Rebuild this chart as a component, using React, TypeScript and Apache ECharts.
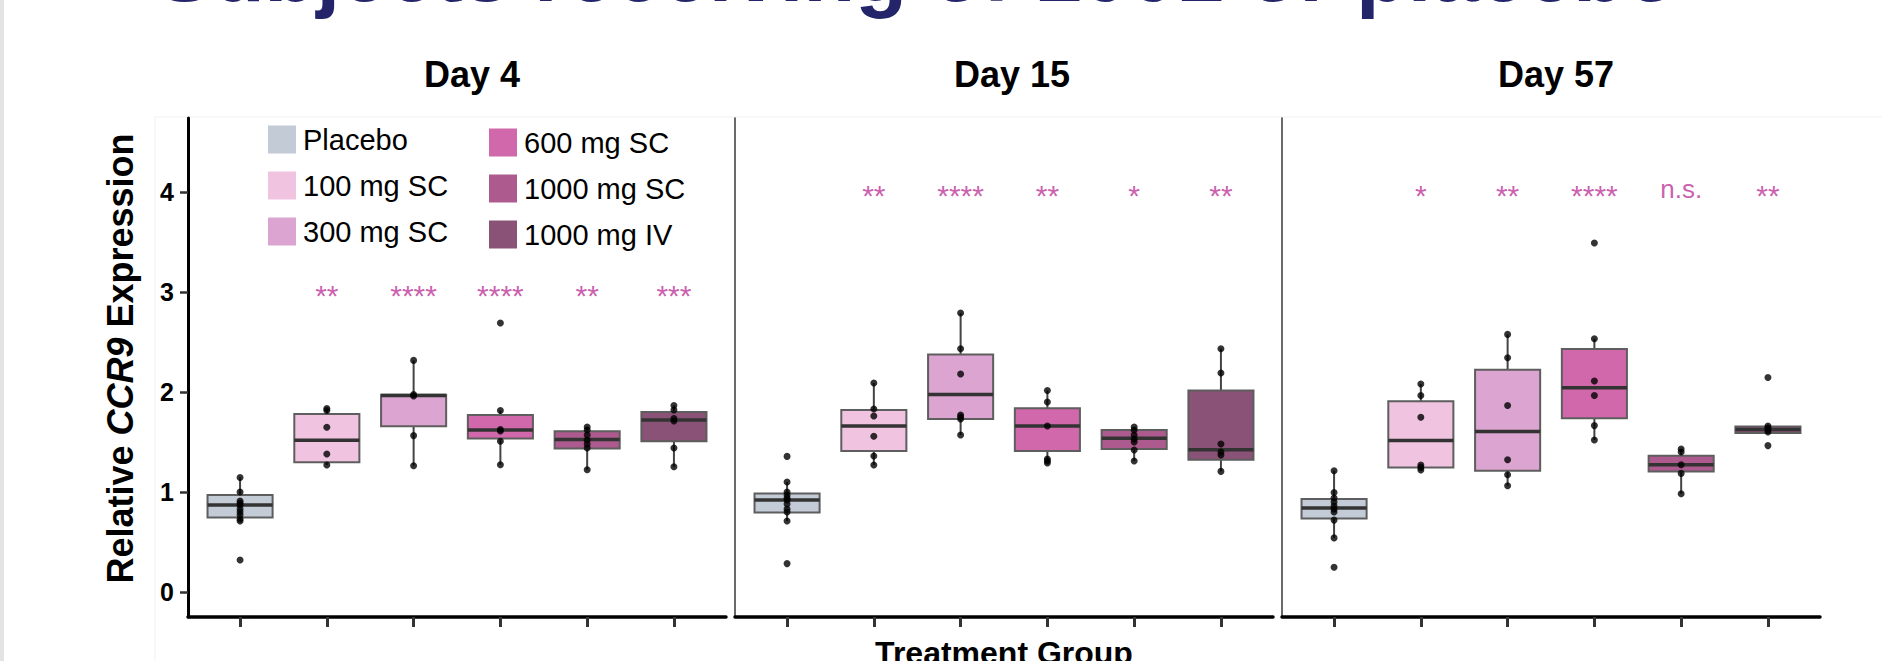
import React, { useEffect, useRef } from "react";
import * as echarts from "echarts";

const FONT = '"Liberation Sans", Arial, Helvetica, sans-serif';

const pageTitle = "Subjects receiving of 1001 or placebo";
const days = ["Day 4", "Day 15", "Day 57"];
const groups = ["Placebo", "100 mg SC", "300 mg SC", "600 mg SC", "1000 mg SC", "1000 mg IV"];
const groupColors = ["#c3cbd7", "#f0c3e1", "#dca4d1", "#d068ab", "#ad5b8e", "#8a5276"];
const yTicks = [0, 1, 2, 3, 4];
const xTicks = [0, 1, 2, 3, 4, 5];

// box stats per group: [lower whisker, Q1, median, Q3, upper whisker]
const day4Boxes = [
  [0.7, 0.745, 0.87, 0.97, 1.145],
  [1.27, 1.297, 1.517, 1.78, 1.83],
  [1.263, 1.657, 1.965, 1.972, 2.316],
  [1.273, 1.534, 1.62, 1.77, 1.815],
  [1.223, 1.434, 1.524, 1.607, 1.65],
  [1.253, 1.507, 1.721, 1.8, 1.865],
];
const day15Boxes = [
  [0.71, 0.795, 0.92, 0.985, 1.1],
  [1.27, 1.41, 1.66, 1.82, 2.09],
  [1.57, 1.73, 1.975, 2.376, 2.79],
  [1.29, 1.41, 1.66, 1.838, 2.015],
  [1.31, 1.43, 1.537, 1.62, 1.65],
  [1.206, 1.323, 1.423, 2.015, 2.433],
];
const day57Boxes = [
  [0.541, 0.735, 0.84, 0.929, 1.213],
  [1.22, 1.246, 1.514, 1.908, 2.08],
  [1.063, 1.213, 1.604, 2.222, 2.576],
  [1.52, 1.737, 2.042, 2.43, 2.533],
  [0.982, 1.206, 1.273, 1.363, 1.43],
  [1.59, 1.59, 1.624, 1.654, 1.66],
];

// individual subject values per group
const day4Points = [
  [1.145, 1.0, 0.91, 0.89, 0.87, 0.83, 0.8, 0.77, 0.73, 0.71, 0.32],
  [1.835, 1.815, 1.647, 1.38, 1.27],
  [2.316, 1.975, 1.96, 1.564, 1.263],
  [2.69, 1.815, 1.625, 1.61, 1.507, 1.273],
  [1.65, 1.62, 1.57, 1.52, 1.48, 1.44, 1.223],
  [1.865, 1.82, 1.735, 1.71, 1.44, 1.253],
];
const day15Points = [
  [1.356, 1.1, 1.0, 0.97, 0.94, 0.92, 0.88, 0.83, 0.8, 0.71, 0.284],
  [2.09, 1.83, 1.76, 1.557, 1.36, 1.27],
  [2.79, 2.433, 2.18, 1.77, 1.75, 1.73, 1.57],
  [2.015, 1.9, 1.66, 1.33, 1.31, 1.29],
  [1.65, 1.62, 1.57, 1.53, 1.5, 1.42, 1.31],
  [2.433, 2.19, 1.48, 1.4, 1.37, 1.206],
];
const day57Points = [
  [1.213, 0.995, 0.94, 0.9, 0.86, 0.83, 0.8, 0.719, 0.541, 0.248],
  [2.08, 1.965, 1.748, 1.27, 1.246, 1.22],
  [2.576, 2.343, 1.865, 1.323, 1.173, 1.063],
  [3.49, 2.533, 2.11, 1.965, 1.664, 1.52],
  [1.43, 1.4, 1.273, 1.186, 0.982],
  [2.145, 1.66, 1.64, 1.62, 1.6, 1.464],
];

const day4Stars = ["", "**", "****", "****", "**", "***"];
const day15Stars = ["", "**", "****", "**", "*", "**"];
const day57Stars = ["", "*", "**", "****", "n.s.", "**"];
const starLevels = [3, 4, 4];

const allBoxes = [day4Boxes, day15Boxes, day57Boxes];
const allPoints = [day4Points, day15Points, day57Points];
const allStars = [day4Stars, day15Stars, day57Stars];

const dayTitleX = [472, 1012, 1556];
const STAR_COLOR = "#bd3599";

function renderBox(params: any, api: any) {
  const x = api.value(0);
  const low = api.value(1);
  const q1 = api.value(2);
  const med = api.value(3);
  const q3 = api.value(4);
  const high = api.value(5);
  const hw = 0.375;
  const tl = api.coord([x - hw, q3]);
  const br = api.coord([x + hw, q1]);
  const pLow = api.coord([x, low]);
  const pHigh = api.coord([x, high]);
  const pQ1 = api.coord([x, q1]);
  const pQ3 = api.coord([x, q3]);
  const mL = api.coord([x - hw, med]);
  const mR = api.coord([x + hw, med]);
  const color = api.visual("color");
  return {
    type: "group",
    children: [
      { type: "line", shape: { x1: pHigh[0], y1: pHigh[1], x2: pQ3[0], y2: pQ3[1] }, style: { stroke: "#444", lineWidth: 2 } },
      { type: "line", shape: { x1: pQ1[0], y1: pQ1[1], x2: pLow[0], y2: pLow[1] }, style: { stroke: "#444", lineWidth: 2 } },
      {
        type: "rect",
        shape: { x: tl[0], y: tl[1], width: br[0] - tl[0], height: br[1] - tl[1] },
        style: { fill: color, stroke: "#5e5e5e", lineWidth: 2 },
      },
      { type: "line", shape: { x1: mL[0], y1: mL[1], x2: mR[0], y2: mR[1] }, style: { stroke: "#333", lineWidth: 3.5 } },
    ],
  };
}

export default function App() {
  const ref = useRef<HTMLDivElement>(null);

  useEffect(() => {
    if (!ref.current) return;
    const chart = echarts.init(ref.current, undefined, { renderer: "svg" });

    const grids: any[] = [];
    const xAxes: any[] = [];
    const yAxes: any[] = [];
    const series: any[] = [];

    for (let d = 0; d < 3; d++) {
      grids.push({ left: 188 + d * 547, top: 118, width: 538, height: 499, outerBoundsMode: "none", containLabel: false });
      xAxes.push({
        type: "value",
        gridIndex: d,
        min: -0.6,
        max: 5.6,
        axisLine: { show: true, onZero: false, lineStyle: { color: "#000", width: 3.5 } },
        axisTick: { show: true, customValues: xTicks, length: 10, lineStyle: { color: "#333", width: 3 } },
        axisLabel: { show: false },
        splitLine: { show: false },
        name: d === 1 ? "Treatment Group" : "",
        nameLocation: "middle",
        nameGap: 20,
        nameTextStyle: { fontSize: 32, fontWeight: "bold", color: "#000", fontFamily: FONT },
      });
      yAxes.push({
        type: "value",
        gridIndex: d,
        min: -0.25,
        max: 4.74,
        axisLine: { show: true, onZero: false, lineStyle: { color: d === 0 ? "#000" : "#444", width: d === 0 ? 3 : 1.6 } },
        axisTick: { show: d === 0, customValues: yTicks, length: 8, lineStyle: { color: "#333", width: 2.5 } },
        axisLabel: {
          show: d === 0,
          customValues: yTicks,
          fontSize: 25,
          fontWeight: "bold",
          color: "#000",
          fontFamily: FONT,
          margin: 14,
        },
        splitLine: { show: false },
        name: d === 0 ? "Relative {i|CCR9} Expression" : "",
        nameLocation: "middle",
        nameRotate: 90,
        nameGap: 50,
        nameTextStyle: {
          fontSize: 36,
          fontWeight: "bold",
          color: "#000",
          fontFamily: FONT,
          padding: [0, 0, 0, 18],
          rich: { i: { fontSize: 36, fontWeight: "bold", fontStyle: "italic", color: "#000", fontFamily: FONT } },
        },
      });

      for (let g = 0; g < groups.length; g++) {
        series.push({
          type: "custom",
          name: groups[g],
          xAxisIndex: d,
          yAxisIndex: d,
          itemStyle: { color: groupColors[g] },
          renderItem: renderBox,
          encode: { x: 0, y: [1, 2, 3, 4, 5] },
          data: [[g, ...allBoxes[d][g]]],
          z: 2,
          silent: true,
        });
      }

      const pts: number[][] = [];
      allPoints[d].forEach((arr, g) => arr.forEach((v) => pts.push([g, v])));
      series.push({
        type: "scatter",
        xAxisIndex: d,
        yAxisIndex: d,
        data: pts,
        symbol: "circle",
        symbolSize: 7,
        itemStyle: { color: "#000" },
        z: 5,
        silent: true,
      });

      const starData: any[] = [];
      allStars[d].forEach((s, g) => {
        if (!s) return;
        const item: any = { name: s, value: [g, starLevels[d]] };
        if (s === "n.s.") item.label = { fontSize: 26, offset: [0, -3] };
        starData.push(item);
      });
      series.push({
        type: "scatter",
        xAxisIndex: d,
        yAxisIndex: d,
        data: starData,
        symbolSize: 0,
        itemStyle: { color: STAR_COLOR },
        label: {
          show: true,
          position: "inside",
          formatter: "{b}",
          fontSize: 30,
          color: STAR_COLOR,
          fontFamily: FONT,
          offset: [0, 3],
        },
        z: 6,
        silent: true,
      });
    }

    const graphics: any[] = [
      { type: "rect", shape: { x: 0, y: 0, width: 4, height: 661 }, style: { fill: "#e3e3e3" }, silent: true },
      { type: "line", shape: { x1: 155, y1: 117, x2: 1882, y2: 117 }, style: { stroke: "#f1f1f1", lineWidth: 1 }, silent: true },
      { type: "line", shape: { x1: 155, y1: 117, x2: 155, y2: 661 }, style: { stroke: "#f1f1f1", lineWidth: 1 }, silent: true },
      {
        type: "text",
        x: 156,
        y: 14,
        style: { text: pageTitle, font: `bold 85px ${FONT}`, fill: "#24246b", align: "left", verticalAlign: "bottom" },
        silent: true,
      },
    ];
    days.forEach((dname, d) => {
      graphics.push({
        type: "text",
        x: dayTitleX[d],
        y: 74,
        style: { text: dname, font: `bold 36px ${FONT}`, fill: "#000", align: "center", verticalAlign: "middle" },
        silent: true,
      });
    });

    chart.setOption({
      animation: false,
      backgroundColor: "#fff",
      grid: grids,
      xAxis: xAxes,
      yAxis: yAxes,
      legend: [
        {
          data: groups.slice(0, 3),
          left: 268,
          top: 125,
          orient: "vertical",
          itemWidth: 28,
          itemHeight: 28,
          itemGap: 17,
          icon: "rect",
          selectedMode: false,
          padding: 0,
          textStyle: { fontSize: 29, color: "#000", fontFamily: FONT, padding: [0, 0, 0, 2] },
        },
        {
          data: groups.slice(3, 6),
          left: 489,
          top: 128,
          orient: "vertical",
          itemWidth: 28,
          itemHeight: 28,
          itemGap: 17,
          icon: "rect",
          selectedMode: false,
          padding: 0,
          textStyle: { fontSize: 29, color: "#000", fontFamily: FONT, padding: [0, 0, 0, 2] },
        },
      ],
      graphic: graphics,
      series,
    });

    return () => chart.dispose();
  }, []);

  return (
    <div
      ref={ref}
      style={{ position: "fixed", left: 0, top: 0, width: "1882px", height: "661px", background: "#fff" }}
    />
  );
}
